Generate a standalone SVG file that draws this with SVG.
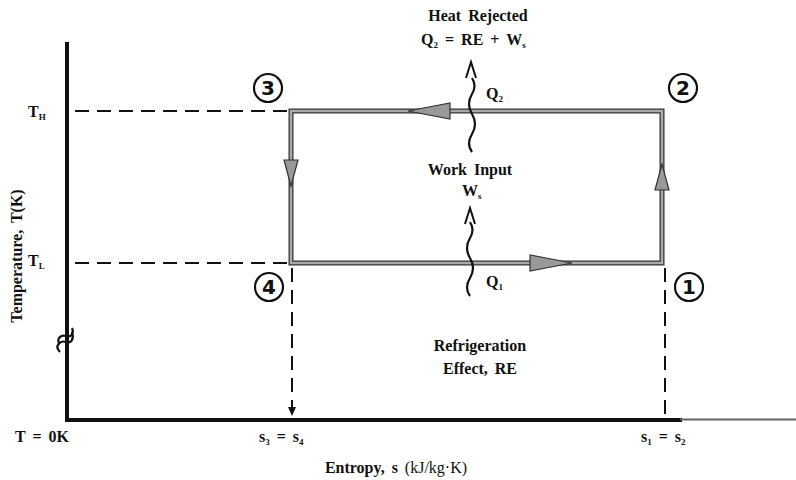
<svg xmlns="http://www.w3.org/2000/svg" width="796" height="480" viewBox="0 0 796 480">
<defs>
<style>
text{font-family:"Liberation Serif","Times New Roman",serif;font-weight:bold;fill:#111;font-size:16px;word-spacing:3px}
.mid{text-anchor:middle}
.sub{font-size:9px}
.dash{stroke:#111;stroke-width:2;stroke-dasharray:14,8;fill:none}
.edgeO{stroke:#333;stroke-width:5;fill:none}
.edgeI{stroke:#aaa;stroke-width:2.5;fill:none}
.circ{fill:none;stroke:#111;stroke-width:2.2}
.num{font-family:"DejaVu Sans",sans-serif;font-weight:bold;font-size:20px;text-anchor:middle}
.head{fill:#999;stroke:#333;stroke-width:1.2}
.wave{fill:none;stroke:#111;stroke-width:2.2}
</style>
</defs>
<g id="axes">
<path d="M67,42 V420 H682" fill="none" stroke="#111" stroke-width="4"/>
<path d="M680,419.5 H796" stroke="#666" stroke-width="2"/>
<path d="M60,352 c-6,-6 0,-12 6,-10 c6,2 8,-4 6,-10" fill="none" stroke="#111" stroke-width="2.2"/>
<path d="M60,344 c-4,-4 0,-10 6,-8 c6,2 8,-4 6,-8" fill="none" stroke="#111" stroke-width="2.2"/>
</g>
<g id="guides">
<path class="dash" d="M75,111 H289"/>
<path class="dash" d="M75,263 H289"/>
<path class="dash" d="M292,268 V410"/>
<path d="M288,407 L292,416 L296,407 Z" fill="#111"/>
<path class="dash" d="M665,268 V418"/>
</g>
<g id="connectors">
<path class="edgeO" d="M291,263 V111 H662 V263 Z"/>
<path class="edgeI" d="M291,263 V111 H662 V263 Z"/>
<path class="head" d="M408,111 L450,103 L450,119 Z"/>
<path class="head" d="M291,186 L284,160 L298,160 Z"/>
<path class="head" d="M572,263 L530,255 L530,271 Z"/>
<path class="head" d="M662,164 L655,190 L669,190 Z"/>
</g>
<g id="wave-top">
<path class="wave" d="M472,152 q-6,-8 0,-18 q6,-10 0,-20 q-6,-10 0,-20 q5,-8 0,-16"/>
<path d="M466,78 L471,62 L476,78" fill="none" stroke="#111" stroke-width="2"/>
</g>
<g id="wave-bottom">
<path class="wave" d="M470,296 q-6,-8 0,-18 q6,-10 0,-20 q-6,-10 0,-20 q5,-8 0,-16"/>
<path d="M465,224 L470,208 L475,224" fill="none" stroke="#111" stroke-width="2"/>
</g>
<g id="node-1"><circle class="circ" cx="689" cy="287" r="14"/><text class="num" x="689" y="294">1</text></g>
<g id="node-2"><circle class="circ" cx="683" cy="88" r="14"/><text class="num" x="683" y="95">2</text></g>
<g id="node-3"><circle class="circ" cx="268" cy="88" r="14"/><text class="num" x="268" y="95">3</text></g>
<g id="node-4"><circle class="circ" cx="269" cy="287" r="14"/><text class="num" x="269" y="294">4</text></g>
<g id="labels">
<text class="mid" x="478" y="21">Heat Rejected</text>
<text x="421" y="45" word-spacing="7">Q<tspan class="sub" dy="3">2</tspan><tspan dy="-3"> = RE + W</tspan><tspan class="sub" dy="3">s</tspan></text>
<text x="486" y="99">Q<tspan class="sub" dy="3">2</tspan></text>
<text class="mid" x="470" y="175">Work Input</text>
<text x="462" y="196">W<tspan class="sub" dy="3">s</tspan></text>
<text x="486" y="287">Q<tspan class="sub" dy="3">1</tspan></text>
<text class="mid" x="480" y="351">Refrigeration</text>
<text class="mid" x="480" y="374">Effect, RE</text>
<text x="28" y="117">T<tspan class="sub" dy="3">H</tspan></text>
<text x="28" y="266">T<tspan class="sub" dy="3">L</tspan></text>
<text class="mid" transform="translate(22,256) rotate(-90)" word-spacing="4">Temperature, T(K)</text>
<text x="15" y="442" word-spacing="8">T = 0K</text>
<text x="259" y="442" word-spacing="7">s<tspan class="sub" dy="3">3</tspan><tspan dy="-3"> = s</tspan><tspan class="sub" dy="3">4</tspan></text>
<text x="641" y="442" word-spacing="7">s<tspan class="sub" dy="3">1</tspan><tspan dy="-3"> = s</tspan><tspan class="sub" dy="3">2</tspan></text>
<text class="mid" x="396" y="473" word-spacing="4">Entropy, s <tspan font-weight="normal">(kJ/kg·K)</tspan></text>
</g>
</svg>
